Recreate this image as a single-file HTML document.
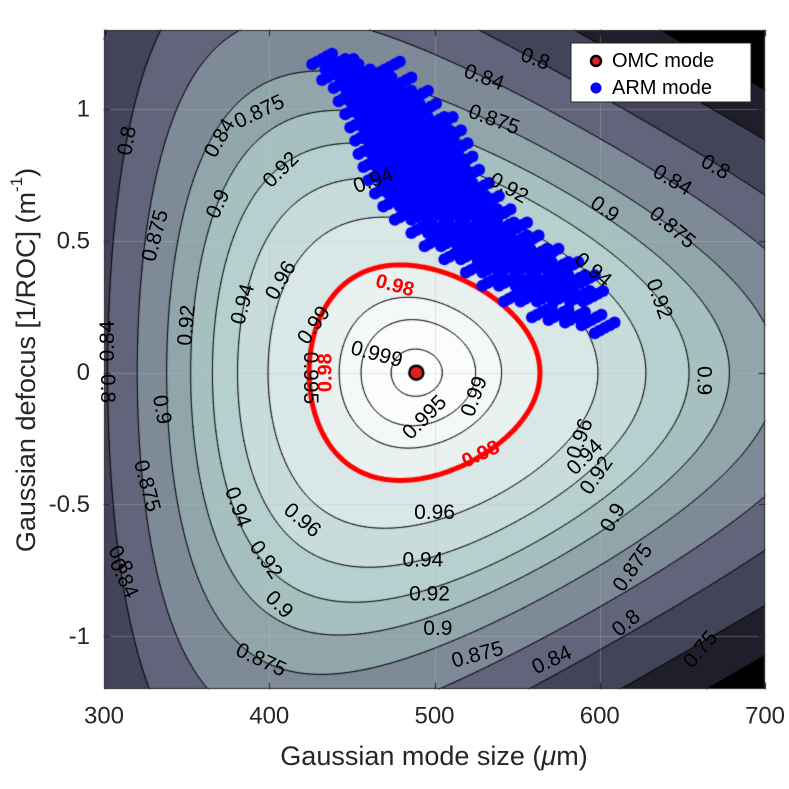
<!DOCTYPE html>
<html><head><meta charset="utf-8"><style>
html,body{margin:0;padding:0;background:#fff;width:789px;height:789px;overflow:hidden}
#wrap{position:relative;width:789px;height:789px;font-family:"Liberation Sans",sans-serif}
canvas{position:absolute;left:0;top:0}
svg{position:absolute;left:0;top:0}
</style></head><body>
<div id="wrap">
<canvas id="cv" width="789" height="789"></canvas>
<svg id="sv" width="789" height="789"></svg>
</div>
<script>
// ---- data ----
const xDomain = [300, 700];
const yDomain = [-1.2, 1.3];
const xTicks = [300, 400, 500, 600, 700];
const yTicks = [-1, -0.5, 0, 0.5, 1];
const yTickLabels = ["-1", "-0.5", "0", "0.5", "1"];
const omcWaist = 489;        // um
const omcDefocus = 0;        // 1/m
const lambdaUm = 1.064;      // um
const levels = [0.7, 0.75, 0.8, 0.84, 0.875, 0.9, 0.92, 0.94, 0.96, 0.98, 0.99, 0.995, 0.999];
const armX = [432,440,445,438,448,455,473,445,452,460,468,480,448,455,463,472,480,490,452,460,468,476,485,495,455,463,472,480,490,500,505,458,466,474,483,493,503,510,460,468,476,486,496,506,514,463,471,480,489,499,509,517,466,474,484,493,503,513,521,470,478,488,497,507,517,527,475,485,495,505,515,525,533,482,492,502,512,522,532,540,492,502,512,522,532,542,550,500,510,520,530,540,550,557,512,522,532,542,552,562,569,525,535,545,555,565,575,581,535,545,555,565,575,585,591,548,558,568,578,588,596,565,575,585,595,603];
const armY = [1.19,1.17,1.17,1.13,1.15,1.13,1.16,1.10,1.10,1.10,1.10,1.10,1.05,1.05,1.05,1.05,1.05,1.05,1.00,1.00,1.00,1.00,1.00,1.00,0.95,0.95,0.95,0.95,0.95,0.95,0.95,0.90,0.90,0.90,0.90,0.90,0.90,0.90,0.85,0.85,0.85,0.85,0.85,0.85,0.85,0.80,0.80,0.80,0.80,0.80,0.80,0.80,0.75,0.75,0.75,0.75,0.75,0.75,0.75,0.70,0.70,0.70,0.70,0.70,0.70,0.70,0.65,0.65,0.65,0.65,0.65,0.65,0.65,0.60,0.60,0.60,0.60,0.60,0.60,0.60,0.55,0.55,0.55,0.55,0.55,0.55,0.55,0.50,0.50,0.50,0.50,0.50,0.50,0.50,0.45,0.45,0.45,0.45,0.45,0.45,0.45,0.40,0.40,0.40,0.40,0.40,0.40,0.40,0.35,0.35,0.35,0.35,0.35,0.35,0.35,0.29,0.29,0.29,0.29,0.29,0.29,0.23,0.22,0.21,0.20,0.17];
const labelText = ["0.875","0.84","0.8","0.92","0.9","0.875","0.96","0.94","0.92","0.84","0.8","0.9","0.875","0.94","0.84","0.8","0.92","0.9","0.875","0.96","0.96","0.94","0.92","0.9","0.875","0.84","0.8","0.75","0.875","0.9","0.92","0.94","0.96","0.9","0.92","0.875","0.84","0.8","0.9","0.94","0.92","0.875","0.84","0.8","0.99","0.995","0.999","0.995","0.99","0.94"];
const labelX = [394,370,314,407,369,331,407,384,350,302,302,335,326,381,312,310,398,406,395,420,500,493,497,502,526,571,616,661,620,608,598,591,588,663,636,644,644,670,603,596,545,536,530,561,427,425,465,494,524,463];
const labelY = [0.99,0.89,0.88,0.77,0.64,0.52,0.35,0.26,0.18,0.12,-0.06,-0.14,-0.43,-0.51,-0.78,-0.71,-0.71,-0.88,-1.09,-0.56,-0.53,-0.71,-0.84,-0.97,-1.07,-1.09,-0.95,-1.05,-0.74,-0.55,-0.39,-0.32,-0.25,-0.03,0.28,0.55,0.73,0.78,0.62,0.39,0.70,0.96,1.12,1.19,0.18,-0.02,0.07,-0.17,-0.09,0.73];
const labelRot = [-25,-60,-80,-45,-65,-75,-60,-75,-85,-90,90,80,75,70,65,60,55,45,25,40,0,0,0,0,-15,-25,-40,-50,-55,-60,-55,-45,-70,90,70,40,30,30,35,40,30,20,20,20,-55,90,15,-45,-70,-20];
const redLabelX = [476, 434, 528];
const redLabelY = [0.33, 0.0, -0.31];
const redLabelRot = [15, -90, -25];

// ---- geometry ----
const L=104,R=765,T=30,B=689;
const px=x=>L+(x-xDomain[0])*(R-L)/(xDomain[1]-xDomain[0]);
const py=y=>B-(y-yDomain[0])*(B-T)/(yDomain[1]-yDomain[0]);
function eta(w,d){
  const r=w/omcWaist, a=r+1/r;
  const k=Math.PI*w*omcWaist*1e-12/(lambdaUm*1e-6)*(d-omcDefocus);
  return 4/(a*a+k*k);
}
const fills=["#000000","#1f1f2b","#43435a","#62647c","#7e8a98","#90a6ab","#a6c0c0","#b6cfcf","#c9dcdc","#dae7e7","#eaf1f1","#f5f8f8","#fbfcfc","#ffffff"];
function band(v){let i=0;while(i<levels.length&&v>=levels[i])i++;return i;}

const cv=document.getElementById('cv'),ctx=cv.getContext('2d');
ctx.fillStyle='#fff';ctx.fillRect(0,0,789,789);
const img=ctx.createImageData(R-L,B-T);
const rgb=fills.map(h=>[parseInt(h.slice(1,3),16),parseInt(h.slice(3,5),16),parseInt(h.slice(5,7),16)]);
for(let j=0;j<B-T;j++)for(let i=0;i<R-L;i++){
  const x=xDomain[0]+(i+0.5)*(xDomain[1]-xDomain[0])/(R-L);
  const y=yDomain[1]-(j+0.5)*(yDomain[1]-yDomain[0])/(B-T);
  const c=rgb[band(eta(x,y))];const o=(j*(R-L)+i)*4;
  img.data[o]=c[0];img.data[o+1]=c[1];img.data[o+2]=c[2];img.data[o+3]=255;
}
ctx.putImageData(img,L,T);
ctx.strokeStyle='rgba(190,190,190,0.35)';ctx.lineWidth=1;
xTicks.forEach(t=>{ctx.beginPath();ctx.moveTo(Math.round(px(t))+0.5,T);ctx.lineTo(Math.round(px(t))+0.5,B);ctx.stroke();});
yTicks.forEach(t=>{ctx.beginPath();ctx.moveTo(L,Math.round(py(t))+0.5);ctx.lineTo(R,Math.round(py(t))+0.5);ctx.stroke();});
const N=260,M=260;
const gx=i=>xDomain[0]+i*(xDomain[1]-xDomain[0])/N, gy=j=>yDomain[0]+j*(yDomain[1]-yDomain[0])/M;
const G=[];for(let j=0;j<=M;j++){G[j]=[];for(let i=0;i<=N;i++)G[j][i]=eta(gx(i),gy(j));}
function contour(lv){
  ctx.beginPath();
  for(let j=0;j<M;j++)for(let i=0;i<N;i++){
    const c=[[i,j],[i+1,j],[i+1,j+1],[i,j+1]];
    const v=c.map(p=>G[p[1]][p[0]]);const pts=[];
    for(let e=0;e<4;e++){const a=v[e],b=v[(e+1)%4];
      if((a<lv)!==(b<lv)){const t=(lv-a)/(b-a);const p=c[e],q=c[(e+1)%4];
        pts.push([px(gx(p[0]+(q[0]-p[0])*t)),py(gy(p[1]+(q[1]-p[1])*t))]);}}
    for(let k=0;k+1<pts.length;k+=2){ctx.moveTo(pts[k][0],pts[k][1]);ctx.lineTo(pts[k+1][0],pts[k+1][1]);}
  }
  ctx.stroke();
}
ctx.lineCap='round';
levels.forEach(lv=>{if(lv===0.98)return;ctx.strokeStyle='#000';ctx.lineWidth=0.9;contour(lv);});
ctx.strokeStyle='#ff0000';ctx.lineWidth=5;contour(0.98);
ctx.fillStyle='#0000ff';
for(let k=0;k<armX.length;k++){
  for(let d=-2;d<=2;d++){ctx.beginPath();ctx.arc(px(armX[k]+d*3),py(armY[k]+d*0.01),6,0,2*Math.PI);ctx.fill();}}
ctx.beginPath();ctx.arc(px(omcWaist),py(omcDefocus),7,0,2*Math.PI);ctx.fillStyle='#e02020';ctx.fill();ctx.lineWidth=2.5;ctx.strokeStyle='#000';ctx.stroke();
ctx.strokeStyle='#262626';ctx.lineWidth=1;ctx.strokeRect(L+0.5,T+0.5,R-L-1,B-T-1);
ctx.beginPath();
xTicks.forEach(t=>{const X=Math.round(px(t))+0.5;ctx.moveTo(X,B);ctx.lineTo(X,B-6);ctx.moveTo(X,T);ctx.lineTo(X,T+6);});
yTicks.forEach(t=>{const Y=Math.round(py(t))+0.5;ctx.moveTo(L,Y);ctx.lineTo(L+6,Y);ctx.moveTo(R,Y);ctx.lineTo(R-6,Y);});
ctx.stroke();

const sv=document.getElementById('sv');const NS='http://www.w3.org/2000/svg';
function txt(s,x,y,opt){const t=document.createElementNS(NS,'text');t.textContent=s;
  t.setAttribute('x',x);t.setAttribute('y',y);t.setAttribute('font-size',opt.size||18);
  t.setAttribute('fill',opt.fill||'#000');t.setAttribute('text-anchor',opt.anchor||'middle');
  t.setAttribute('dominant-baseline',opt.base||'central');t.setAttribute('font-family','Liberation Sans, sans-serif');
  if(opt.weight)t.setAttribute('font-weight',opt.weight);
  if(opt.rot)t.setAttribute('transform','rotate('+opt.rot+' '+x+' '+y+')');
  sv.appendChild(t);return t;}
for(let k=0;k<labelText.length;k++){
  const t=txt(labelText[k],px(labelX[k]),py(labelY[k]),{size:21,rot:labelRot[k]});
  
  
}
for(let k=0;k<redLabelX.length;k++){
  const t=txt('0.98',px(redLabelX[k]),py(redLabelY[k]),{size:20,fill:'#ff0000',weight:'bold',rot:redLabelRot[k]});
  
  
}
xTicks.forEach(v=>{const t=txt(String(v),px(v),716,{size:24,fill:'#262626'});
  
  });
yTicks.forEach((v,k)=>{const t=txt(yTickLabels[k],90,py(v),{size:24,anchor:'end',fill:'#262626'});
  
  });
sv.insertAdjacentHTML('beforeend',
 '<text x="434" y="756" font-size="27" text-anchor="middle" dominant-baseline="central" font-family="Liberation Sans, sans-serif" fill="#262626">Gaussian mode size (<tspan font-style="italic">μ</tspan>m)</text>'+
 '<text x="26" y="360" font-size="27" text-anchor="middle" dominant-baseline="central" font-family="Liberation Sans, sans-serif" fill="#262626" transform="rotate(-90 26 360)">Gaussian defocus [1/ROC] (m<tspan baseline-shift="super" font-size="17">-1</tspan>)</text>'+
 '<g><rect x="571" y="43" width="180" height="59" fill="#fff" stroke="#262626" stroke-width="1"/>'+
 '<g><circle cx="596" cy="61" r="5" fill="#e02020" stroke="#000" stroke-width="2.5"/><text x="612" y="61" font-size="20" dominant-baseline="central" font-family="Liberation Sans, sans-serif">OMC mode</text></g>'+
 '<g><circle cx="596" cy="88" r="5.5" fill="#0000ff"/><text x="612" y="88" font-size="20" dominant-baseline="central" font-family="Liberation Sans, sans-serif">ARM mode</text></g></g>');
</script>
</body></html>
